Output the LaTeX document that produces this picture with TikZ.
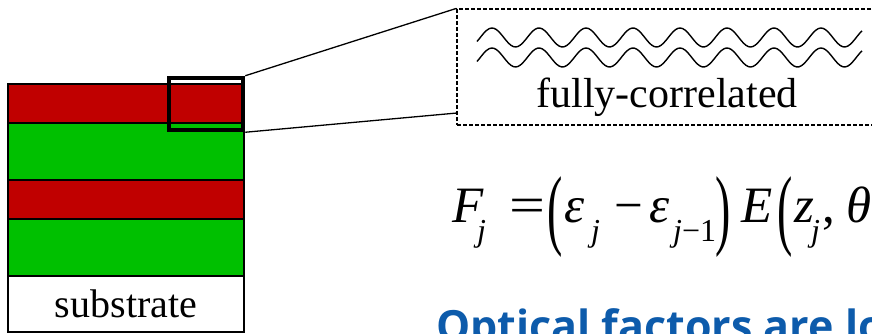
\documentclass[tikz,border=0pt]{standalone}
\usepackage{graphicx}
\usepackage{fontspec}
\setmainfont{Liberation Serif}
\newfontfamily\headfont{Open Sans}
\definecolor{layred}{HTML}{C00000}
\definecolor{laygreen}{HTML}{00C000}
\definecolor{headblue}{HTML}{0D5BAB}
% one glyph of the formula in a box of fixed width
\newcommand\gl[2]{\makebox[#1][l]{#2}}
\newcommand\sbs[1]{\raisebox{-19pt}{\fontsize{32}{32}\selectfont #1}}
\newcommand\bigp[1]{\raisebox{-16pt}{\scalebox{0.9}[1.75]{#1}}}
\tikzset{
  layer/.style={draw,line width=1.3pt},
  zoombox/.style={draw,line width=4.5pt,inner sep=0pt},
  detailbox/.style={draw,line width=1.2pt,dash pattern=on 4pt off 2pt,inner sep=0pt},
  wave/.style={line width=1.4pt}
}
\begin{document}
\begin{tikzpicture}[x=1pt,y=-1pt]
  \useasboundingbox (0,0) rectangle (872,334);
  \clip (0,0) rectangle (872,334);
  % layer stack
  \foreach \ya/\yb/\c in {84/123/layred,123/180/laygreen,180/219/layred,219/276/laygreen}
    \draw[layer,fill=\c] (8,\ya) rectangle (244,\yb);
  \node[layer,inner sep=0pt,minimum width=236pt,minimum height=56pt,font=\fontsize{40}{40}\selectfont] (substrate) at (126,304) {substrate};
  % zoom window and detail
  \node[zoombox,minimum width=74pt,minimum height=52pt] (zoom) at (206,104) {};
  \node[detailbox,minimum width=443pt,minimum height=116pt] (detail) at (678.5,67) {};
  \coordinate (dsw) at (457,113);
  \draw[layer] (zoom.north east) -- (detail.north west) (zoom.south east) -- (dsw);
  \foreach \yc in {37.5,57.5}
    \draw[wave] plot[domain=477:862,samples=160,smooth] (\x,{\yc-9.5*cos((\x-492)/47*360)});
  \node[anchor=base,inner sep=0pt,font=\fontsize{42}{42}\selectfont] (corr) at (667,107) {fully-correlated};
  % formula and heading
  \node[anchor=base west,inner sep=0pt,font=\fontsize{51}{51}\selectfont] (eq) at (452,222)
    {\gl{25pt}{\textit{F}}\gl{32pt}{\sbs{\textit{j}}}\gl{38pt}{\scalebox{1.25}[1]{=}}\gl{17pt}{\bigp{(}}%
     \gl{27pt}{\textit{ε}}\gl{23pt}{\sbs{\textit{j}}}\gl{35pt}{−}\gl{24pt}{\textit{ε}}\gl{42pt}{\sbs{\textit{j}−1}}%
     \gl{26pt}{\bigp{)}}\gl{36pt}{\textit{E}}\gl{17pt}{\bigp{(}}\gl{17pt}{\textit{z}}\gl{11pt}{\sbs{\textit{j}}}%
     \gl{24pt}{,}\textit{θ}};
  \node[anchor=base west,inner sep=0pt,text=headblue,font=\headfont\bfseries\fontsize{43}{43}\selectfont] (head) at (436,341.5) {Optical factors are lo};
\end{tikzpicture}
\end{document}
